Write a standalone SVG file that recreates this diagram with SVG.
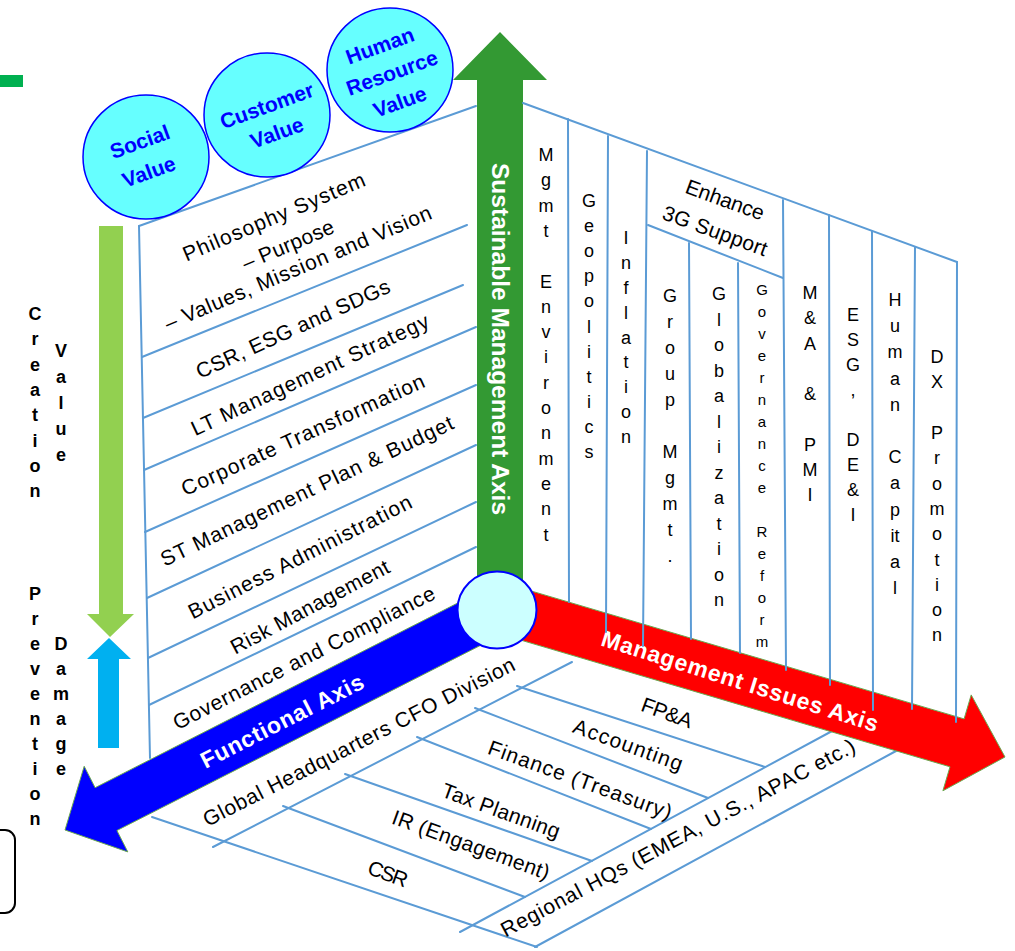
<svg xmlns="http://www.w3.org/2000/svg" width="1015" height="951" viewBox="0 0 1015 951">
<style>
text { font-family: "Liberation Sans", Arial, sans-serif; }
.wl { stroke:#5b9bd5; stroke-width:2; fill:none; stroke-linecap:round }
.lbl { font-size:21px; fill:#000; text-anchor:middle }
.col { font-size:18px; fill:#000; text-anchor:middle }
.colS { font-size:15px; fill:#000; text-anchor:middle }
.cv { font-size:21px; font-weight:bold; fill:#0000ff; text-anchor:middle }
.side { font-size:18px; font-weight:bold; fill:#000; text-anchor:middle }
.ax { fill:#fff; text-anchor:middle; font-size:23px; font-weight:bold }
.val { fill:#66ffff; stroke:#0000ff; stroke-width:1.5 }
.arr { stroke:#6aa84f; stroke-width:1 }
</style>
<rect width="1015" height="951" fill="#fff"/>

<g id="decor">
<rect x="0" y="75" width="23" height="12" fill="#00b050"/>
<rect x="-20" y="830" width="35" height="83" rx="10" fill="none" stroke="#000" stroke-width="2"/>
</g>

<g id="connectors">
<!-- left wall -->
<line class="wl" x1="139" y1="226" x2="150" y2="758"/>
<line class="wl" x1="139" y1="226" x2="476" y2="106"/>
<line class="wl" x1="142" y1="357" x2="467" y2="225"/>
<line class="wl" x1="143" y1="418" x2="463" y2="285"/>
<line class="wl" x1="144" y1="470" x2="476" y2="327"/>
<line class="wl" x1="145" y1="532" x2="476" y2="385"/>
<line class="wl" x1="147" y1="598" x2="476" y2="445"/>
<line class="wl" x1="148" y1="658" x2="476" y2="502"/>
<line class="wl" x1="149" y1="705" x2="476" y2="547"/>
<!-- floor -->
<line class="wl" x1="152" y1="817" x2="537" y2="947"/>
<line class="wl" x1="535" y1="947" x2="896" y2="751"/>
<line class="wl" x1="213" y1="847" x2="572" y2="662"/>
<line class="wl" x1="460" y1="932" x2="834" y2="730"/>
<line class="wl" x1="517" y1="686" x2="765" y2="767"/>
<line class="wl" x1="475" y1="708" x2="708" y2="798"/>
<line class="wl" x1="417" y1="737" x2="651" y2="829"/>
<line class="wl" x1="345" y1="774" x2="592" y2="861"/>
<line class="wl" x1="283" y1="806" x2="525" y2="897"/>
</g>

<g id="axis-green">
<polygon points="477,610 477,80 453,80 500,32 547,80 523,80 523,610" fill="#339933"/>
<text class="ax" font-weight="normal" transform="translate(500,339) rotate(90)" y="8" textLength="352" lengthAdjust="spacingAndGlyphs">Sustainable Management Axis</text>
</g>

<g id="axis-blue">
<polygon class="arr" points="507.9,631.4 116.9,830.5 127.8,851.9 65,830 84.2,766.3 95.1,787.7 486.1,588.6" fill="#0000ff"/>
<text class="ax" font-size="22" transform="translate(282,721) rotate(-27)" y="8" textLength="180">Functional Axis</text>
</g>

<g id="axis-red">
<polygon class="arr" points="504.1,583 964.1,718.9 971.2,694.9 1005,757 942.9,790.8 950,766.8 489.9,631" fill="#ff0000"/>
<text class="ax" transform="translate(740,681) rotate(17.5)" y="8" textLength="289">Management Issues Axis</text>
</g>

<g id="right-wall-lines">
<line class="wl" x1="523" y1="103" x2="957" y2="262"/>
<line class="wl" x1="568" y1="119" x2="569" y2="602"/>
<line class="wl" x1="608" y1="136" x2="606" y2="632"/>
<line class="wl" x1="647" y1="151" x2="643" y2="646"/>
<line class="wl" x1="648" y1="225" x2="783" y2="278"/>
<line class="wl" x1="689" y1="243" x2="691" y2="639"/>
<line class="wl" x1="738" y1="263" x2="740" y2="653"/>
<line class="wl" x1="783" y1="200" x2="786" y2="670"/>
<line class="wl" x1="829" y1="215" x2="830" y2="685"/>
<line class="wl" x1="872" y1="231" x2="873" y2="710"/>
<line class="wl" x1="915" y1="247" x2="912" y2="709"/>
<line class="wl" x1="957" y1="262" x2="956" y2="722"/>
</g>

<g id="origin">
<ellipse cx="497" cy="610" rx="39.5" ry="38.5" fill="#ccffff" stroke="#0000ff" stroke-width="2"/>
</g>

<g id="value-circles">
<ellipse class="val" cx="146" cy="157" rx="63" ry="62"/>
<ellipse class="val" cx="267" cy="115" rx="63" ry="62"/>
<ellipse class="val" cx="390" cy="70" rx="63" ry="62"/>
<text class="cv" transform="translate(140,142) rotate(-20)" y="7">Social</text>
<text class="cv" transform="translate(149,172) rotate(-20)" y="7">Value</text>
<text class="cv" transform="translate(267,106) rotate(-20)" y="7">Customer</text>
<text class="cv" transform="translate(277,133) rotate(-20)" y="7">Value</text>
<text class="cv" transform="translate(380,46) rotate(-20)" y="7">Human</text>
<text class="cv" transform="translate(392,73) rotate(-20)" y="7">Resource</text>
<text class="cv" transform="translate(400,102) rotate(-20)" y="7">Value</text>
</g>

<g id="side-arrows">
<polygon points="99,226 123,226 123,614 134,614 110,637 87,614 99,614" fill="#92d050"/>
<polygon points="109,638 131,659 119,659 119,748 98,748 98,659 87,659" fill="#00b0f0"/>
<text class="side"><tspan x="35" y="320">C</tspan><tspan x="35" y="345">r</tspan><tspan x="35" y="371">e</tspan><tspan x="35" y="396">a</tspan><tspan x="35" y="421">t</tspan><tspan x="35" y="447">i</tspan><tspan x="35" y="472">o</tspan><tspan x="35" y="497">n</tspan></text>
<text class="side"><tspan x="61" y="357">V</tspan><tspan x="61" y="383">a</tspan><tspan x="61" y="409">l</tspan><tspan x="61" y="435">u</tspan><tspan x="61" y="461">e</tspan></text>
<text class="side"><tspan x="35" y="600">P</tspan><tspan x="35" y="625">r</tspan><tspan x="35" y="650">e</tspan><tspan x="35" y="675">v</tspan><tspan x="35" y="700">e</tspan><tspan x="35" y="725">n</tspan><tspan x="35" y="750">t</tspan><tspan x="35" y="775">i</tspan><tspan x="35" y="800">o</tspan><tspan x="35" y="825">n</tspan></text>
<text class="side"><tspan x="61" y="650">D</tspan><tspan x="61" y="675">a</tspan><tspan x="61" y="700">m</tspan><tspan x="61" y="725">a</tspan><tspan x="61" y="750">g</tspan><tspan x="61" y="775">e</tspan></text>
</g>

<g id="functional-rows">
<text class="lbl" transform="translate(274,217) rotate(-23)" y="7" textLength="196">Philosophy System</text>
<text class="lbl" transform="translate(288,245) rotate(-23)" y="7" textLength="98">– Purpose</text>
<text class="lbl" transform="translate(298,268) rotate(-23)" y="7" textLength="288">– Values, Mission and Vision</text>
<text class="lbl" transform="translate(293,329) rotate(-24.5)" y="7" textLength="211">CSR, ESG and SDGs</text>
<text class="lbl" transform="translate(310,375) rotate(-25)" y="7" textLength="260">LT Management Strategy</text>
<text class="lbl" transform="translate(303,435) rotate(-24.5)" y="7" textLength="265">Corporate Transformation</text>
<text class="lbl" transform="translate(307,491) rotate(-25.5)" y="7" textLength="322">ST Management Plan &amp; Budget</text>
<text class="lbl" transform="translate(300,557) rotate(-27)" y="7" textLength="248">Business Administration</text>
<text class="lbl" transform="translate(310,607) rotate(-28)" y="7" textLength="177">Risk Management</text>
<text class="lbl" transform="translate(304,658) rotate(-27)" y="7" textLength="291">Governance and Compliance</text>
</g>

<g id="issue-columns">
<text class="lbl" transform="translate(725,200) rotate(20)" y="7" textLength="82">Enhance</text>
<text class="lbl" transform="translate(715,231) rotate(20)" y="7" textLength="110">3G Support</text>
<text class="col"><tspan x="546" y="161">M</tspan><tspan x="546" y="186">g</tspan><tspan x="546" y="212">m</tspan><tspan x="546" y="237">t</tspan><tspan x="546" y="288">E</tspan><tspan x="546" y="313">n</tspan><tspan x="546" y="338">v</tspan><tspan x="546" y="363">i</tspan><tspan x="546" y="389">r</tspan><tspan x="546" y="414">o</tspan><tspan x="546" y="439">n</tspan><tspan x="546" y="465">m</tspan><tspan x="546" y="490">e</tspan><tspan x="546" y="515">n</tspan><tspan x="546" y="541">t</tspan></text>
<text class="col"><tspan x="589" y="207">G</tspan><tspan x="589" y="232">e</tspan><tspan x="589" y="257">o</tspan><tspan x="589" y="282">p</tspan><tspan x="589" y="307">o</tspan><tspan x="589" y="333">l</tspan><tspan x="589" y="358">i</tspan><tspan x="589" y="383">t</tspan><tspan x="589" y="408">i</tspan><tspan x="589" y="433">c</tspan><tspan x="589" y="458">s</tspan></text>
<text class="col"><tspan x="626" y="244">I</tspan><tspan x="626" y="269">n</tspan><tspan x="626" y="294">f</tspan><tspan x="626" y="319">l</tspan><tspan x="626" y="344">a</tspan><tspan x="626" y="368">t</tspan><tspan x="626" y="393">i</tspan><tspan x="626" y="418">o</tspan><tspan x="626" y="443">n</tspan></text>
<text class="col"><tspan x="670" y="302">G</tspan><tspan x="670" y="328">r</tspan><tspan x="670" y="354">o</tspan><tspan x="670" y="380">u</tspan><tspan x="670" y="406">p</tspan><tspan x="670" y="458">M</tspan><tspan x="670" y="484">g</tspan><tspan x="670" y="510">m</tspan><tspan x="670" y="536">t</tspan><tspan x="670" y="562">.</tspan></text>
<text class="col"><tspan x="719" y="300">G</tspan><tspan x="719" y="326">l</tspan><tspan x="719" y="351">o</tspan><tspan x="719" y="377">b</tspan><tspan x="719" y="402">a</tspan><tspan x="719" y="428">l</tspan><tspan x="719" y="453">i</tspan><tspan x="719" y="479">z</tspan><tspan x="719" y="504">a</tspan><tspan x="719" y="530">t</tspan><tspan x="719" y="555">i</tspan><tspan x="719" y="581">o</tspan><tspan x="719" y="606">n</tspan></text>
<text class="colS"><tspan x="762" y="295">G</tspan><tspan x="762" y="317">o</tspan><tspan x="762" y="339">v</tspan><tspan x="762" y="361">e</tspan><tspan x="762" y="383">r</tspan><tspan x="762" y="405">n</tspan><tspan x="762" y="427">a</tspan><tspan x="762" y="449">n</tspan><tspan x="762" y="471">c</tspan><tspan x="762" y="493">e</tspan><tspan x="762" y="537">R</tspan><tspan x="762" y="559">e</tspan><tspan x="762" y="581">f</tspan><tspan x="762" y="603">o</tspan><tspan x="762" y="625">r</tspan><tspan x="762" y="647">m</tspan></text>
<text class="col"><tspan x="810" y="299">M</tspan><tspan x="810" y="324">&amp;</tspan><tspan x="810" y="350">A</tspan><tspan x="810" y="400">&amp;</tspan><tspan x="810" y="451">P</tspan><tspan x="810" y="476">M</tspan><tspan x="810" y="501">I</tspan></text>
<text class="col"><tspan x="853" y="321">E</tspan><tspan x="853" y="346">S</tspan><tspan x="853" y="371">G</tspan><tspan x="853" y="396">,</tspan><tspan x="853" y="446">D</tspan><tspan x="853" y="471">E</tspan><tspan x="853" y="496">&amp;</tspan><tspan x="853" y="521">I</tspan></text>
<text class="col"><tspan x="895" y="306">H</tspan><tspan x="895" y="332">u</tspan><tspan x="895" y="358">m</tspan><tspan x="895" y="385">a</tspan><tspan x="895" y="411">n</tspan><tspan x="895" y="463">C</tspan><tspan x="895" y="489">a</tspan><tspan x="895" y="516">p</tspan><tspan x="895" y="542">it</tspan><tspan x="895" y="568">a</tspan><tspan x="895" y="594">l</tspan></text>
<text class="col"><tspan x="937" y="363">D</tspan><tspan x="937" y="388">X</tspan><tspan x="937" y="439">P</tspan><tspan x="937" y="464">r</tspan><tspan x="937" y="490">o</tspan><tspan x="937" y="515">m</tspan><tspan x="937" y="540">o</tspan><tspan x="937" y="566">t</tspan><tspan x="937" y="591">i</tspan><tspan x="937" y="616">o</tspan><tspan x="937" y="641">n</tspan></text>
</g>

<g id="organization-floor">
<text class="lbl" transform="translate(359,742) rotate(-27)" y="7" textLength="347">Global Headquarters CFO Division</text>
<text class="lbl" transform="translate(667,713) rotate(20)" y="7" textLength="53">FP&amp;A</text>
<text class="lbl" transform="translate(628,745) rotate(20)" y="7" textLength="115">Accounting</text>
<text class="lbl" transform="translate(580,780) rotate(20)" y="7" textLength="194">Finance (Treasury)</text>
<text class="lbl" transform="translate(501,811) rotate(20)" y="7" textLength="124">Tax Planning</text>
<text class="lbl" transform="translate(471,845) rotate(20)" y="7" textLength="166">IR (Engagement)</text>
<text class="lbl" transform="translate(388,874) rotate(20)" y="7" textLength="41">CSR</text>
<text class="lbl" transform="translate(678,838) rotate(-28)" y="7" textLength="398">Regional HQs (EMEA, U.S., APAC etc.)</text>
</g>
</svg>
